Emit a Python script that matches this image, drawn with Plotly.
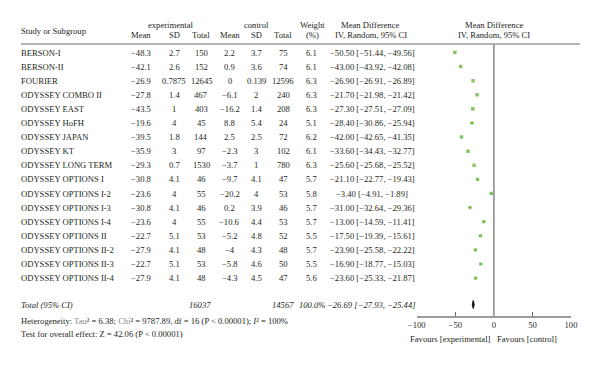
import plotly.graph_objects as go

studies = ["BERSON-I", "BERSON-II", "FOURIER", "ODYSSEY COMBO II", "ODYSSEY EAST", "ODYSSEY HoFH",
           "ODYSSEY JAPAN", "ODYSSEY KT", "ODYSSEY LONG TERM", "ODYSSEY OPTIONS I", "ODYSSEY OPTIONS I-2",
           "ODYSSEY OPTIONS I-3", "ODYSSEY OPTIONS I-4", "ODYSSEY OPTIONS II", "ODYSSEY OPTIONS II-2",
           "ODYSSEY OPTIONS II-3", "ODYSSEY OPTIONS II-4"]
exp_mean = [-48.3, -42.1, -26.9, -27.8, -43.5, -19.6, -39.5, -35.9, -29.3, -30.8, -23.6, -30.8, -23.6, -22.7, -27.9, -22.7, -27.9]
exp_sd = [2.7, 2.6, 0.7875, 1.4, 1, 4, 1.8, 3, 0.7, 4.1, 4, 4.1, 4, 5.1, 4.1, 5.1, 4.1]
exp_n = [150, 152, 12645, 467, 403, 45, 144, 97, 1530, 46, 55, 46, 55, 53, 48, 53, 48]
ctl_mean = [2.2, 0.9, 0, -6.1, -16.2, 8.8, 2.5, -2.3, -3.7, -9.7, -20.2, 0.2, -10.6, -5.2, -4, -5.8, -4.3]
ctl_sd = [3.7, 3.6, 0.139, 2, 1.4, 5.4, 2.5, 3, 1, 4.1, 4, 3.9, 4.4, 4.8, 4.3, 4.6, 4.5]
ctl_n = [75, 74, 12596, 240, 208, 24, 72, 102, 780, 47, 53, 46, 53, 52, 48, 50, 47]
weight = [6.1, 6.1, 6.3, 6.3, 6.3, 5.1, 6.2, 6.1, 6.3, 5.7, 5.8, 5.7, 5.7, 5.5, 5.7, 5.5, 5.6]
md = [-50.50, -43.00, -26.90, -21.70, -27.30, -28.40, -42.00, -33.60, -25.60, -21.10, -3.40, -31.00, -13.00, -17.50, -23.90, -16.90, -23.60]
ci_lo = [-51.44, -43.92, -26.91, -21.98, -27.51, -30.86, -42.65, -34.43, -25.68, -22.77, -4.91, -32.64, -14.59, -19.39, -25.58, -18.77, -25.33]
ci_hi = [-49.56, -42.08, -26.89, -21.42, -27.09, -25.94, -41.35, -32.77, -25.52, -19.43, -1.89, -29.36, -11.41, -15.61, -22.22, -15.03, -21.87]

total_exp_n = 16037
total_ctl_n = 14567
total_weight = "100.0%"
total_md = -26.69
total_lo = -27.93
total_hi = -25.44
heterogeneity = {"tau2": 6.38, "chi2": 9787.89, "df": 16, "p": "0.00001", "i2": 100}
overall_z = 42.06
tick_vals = [-100, -50, 0, 50, 100]

W, H = 600, 368
FONT = "Liberation Serif"
FS = 8.6
TXT = "#231f20"

def fmt(v):
    return f"{v:g}".replace("-", "\u2212")

def fmt2(v):
    return f"{v:.2f}".replace("-", "\u2212")

def py(pix):
    return 1 - pix / H

def px(pix):
    return pix / W

row0, dy = 52.5, 14.1
rows_y = [row0 + i * dy for i in range(len(studies))]
total_y = 304.5
axis_y = 316
header_line_y = 44

annotations = []

def ann(text, x, y, anchor="center", size=FS, color=TXT):
    annotations.append(dict(text=text, x=px(x), y=py(y), xref="paper", yref="paper",
                            xanchor=anchor, yanchor="middle", showarrow=False, borderpad=0, borderwidth=0,
                            font=dict(family=FONT, size=size, color=color)))

# Header
ann("Study or Subgroup", 21, 31, "left")
ann("experimental", 170, 25)
ann("control", 256, 25)
ann("Weight", 313, 25)
ann("(%)", 313, 35)
ann("Mean Difference", 370, 25)
ann("IV, Random, 95% CI", 371, 35)
ann("Mean Difference", 494, 25)
ann("IV, Random, 95% CI", 494, 35)
cols = [141, 174, 201, 229.5, 256, 283]
for x, t in zip(cols, ["Mean", "SD", "Total", "Mean", "SD", "Total"]):
    ann(t, x, 35)

for i, s in enumerate(studies):
    y = rows_y[i]
    ann(s, 21, y, "left")
    vals = [fmt(exp_mean[i]), fmt(exp_sd[i]), str(exp_n[i]), fmt(ctl_mean[i]), fmt(ctl_sd[i]), str(ctl_n[i])]
    for x, t in zip(cols, vals):
        ann(t, x, y)
    ann(f"{weight[i]:.1f}", 311, y)
    ann(f"{fmt2(md[i])} [{fmt2(ci_lo[i])}, {fmt2(ci_hi[i])}]", 372, y)

# Total row
ann("<i>Total (95% CI)</i>", 21, total_y, "left")
ann(f"<i>{total_exp_n}</i>", 200, total_y)
ann(f"<i>{total_ctl_n}</i>", 283, total_y)
ann(f"<i>{total_weight}</i>", 313, total_y)
ann(f"<i>{fmt2(total_md)} [{fmt2(total_lo)}, {fmt2(total_hi)}]</i>", 371, total_y)

g = "#8a8a8a"
het = (f"Heterogeneity: <span style='color:{g}'>Tau</span>\u00b2 = {heterogeneity['tau2']:.2f}; "
       f"<span style='color:{g}'>Chi</span>\u00b2 = {heterogeneity['chi2']:.2f}, df = {heterogeneity['df']} "
       f"(P &lt; {heterogeneity['p']}); <i>I</i>\u00b2 = {heterogeneity['i2']}%")
ann(het, 21, 320.5, "left")
ann(f"Test for overall effect: Z = {overall_z:.2f} (P &lt; {heterogeneity['p']})", 21, 334, "left")

ann("Favours [experimental]", 491, 338.5, "right")
ann("Favours [control]", 497, 338.5, "left")

fig = go.Figure()

green = "#5fb030"
fig.add_trace(go.Scatter(
    x=md, y=rows_y, mode="markers",
    marker=dict(symbol="square", size=[w / 6.3 * 3.6 for w in weight], color=green, line=dict(width=0)),
    error_x=dict(type="data", symmetric=False,
                 array=[h - m for h, m in zip(ci_hi, md)],
                 arrayminus=[m - l for m, l in zip(md, ci_lo)],
                 color=green, thickness=1, width=0),
    showlegend=False, hoverinfo="skip"))

# Diamond for pooled estimate
fig.add_trace(go.Scatter(
    x=[total_lo, total_md, total_hi, total_md, total_lo],
    y=[total_y, total_y - 4, total_y, total_y + 4, total_y],
    mode="lines", fill="toself", fillcolor="#111111", line=dict(color="#111111", width=1),
    showlegend=False, hoverinfo="skip"))

shapes = [
    dict(type="line", xref="paper", yref="paper", x0=px(21), x1=px(580),
         y0=py(header_line_y), y1=py(header_line_y), line=dict(color="#666666", width=1)),
    dict(type="line", xref="x", yref="y", x0=0, x1=0, y0=header_line_y, y1=axis_y,
         line=dict(color="#9a9a9a", width=1.8)),
]

fig.update_layout(
    width=W, height=H, margin=dict(l=0, r=0, t=0, b=0, autoexpand=False),
    paper_bgcolor="white", plot_bgcolor="white",
    annotations=annotations, shapes=shapes,
    xaxis=dict(domain=[px(416.7), px(571)], range=[-100, 100], showgrid=False, zeroline=False,
               showline=True, linecolor="#9a9a9a", linewidth=1.5,
               ticks="inside", ticklen=4, tickcolor="#666666", tickwidth=1,
               tickvals=tick_vals, ticktext=[fmt(v) for v in tick_vals],
               tickfont=dict(family=FONT, size=FS, color=TXT), fixedrange=True),
    yaxis=dict(domain=[py(axis_y), 1], range=[axis_y, 0], visible=False, fixedrange=True),
    font=dict(family=FONT, size=FS, color=TXT),
)

fig.write_html("out.html", config={"displayModeBar": False},
               post_script="document.body.style.margin='0';document.body.style.overflow='hidden';")
